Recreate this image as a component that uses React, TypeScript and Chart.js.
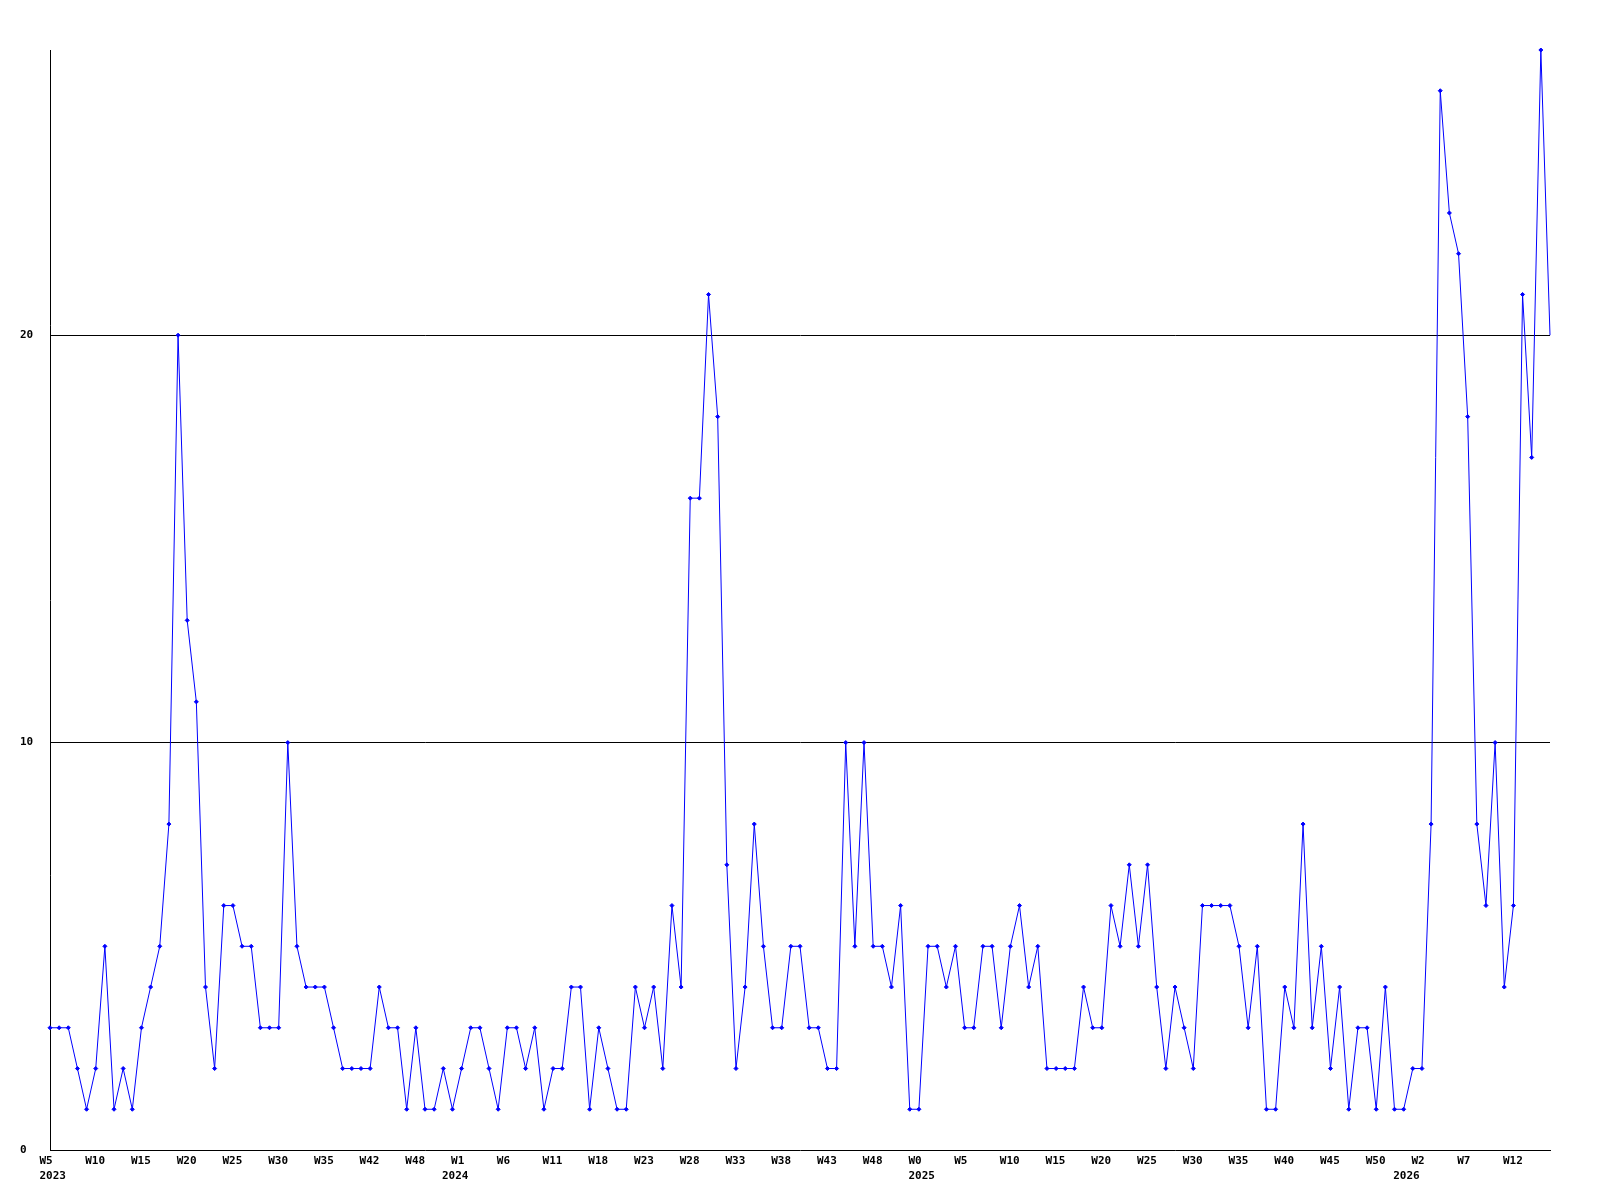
import React, { useEffect, useRef } from 'react';
import { Chart, registerables } from 'chart.js';

Chart.register(...registerables);

// One value per week (165 points)
const weeklyCounts: number[] = [
  3, 3, 3, 2, 1, 2, 5, 1, 2, 1,
  3, 4, 5, 8, 20, 13, 11, 4, 2, 6,
  6, 5, 5, 3, 3, 3, 10, 5, 4, 4,
  4, 3, 2, 2, 2, 2, 4, 3, 3, 1,
  3, 1, 1, 2, 1, 2, 3, 3, 2, 1,
  3, 3, 2, 3, 1, 2, 2, 4, 4, 1,
  3, 2, 1, 1, 4, 3, 4, 2, 6, 4,
  16, 16, 21, 18, 7, 2, 4, 8, 5, 3,
  3, 5, 5, 3, 3, 2, 2, 10, 5, 10,
  5, 5, 4, 6, 1, 1, 5, 5, 4, 5,
  3, 3, 5, 5, 3, 5, 6, 4, 5, 2,
  2, 2, 2, 4, 3, 3, 6, 5, 7, 5,
  7, 4, 2, 4, 3, 2, 6, 6, 6, 6,
  5, 3, 5, 1, 1, 4, 3, 8, 3, 5,
  2, 4, 1, 3, 3, 1, 4, 1, 1, 2,
  2, 8, 26, 23, 22, 18, 8, 6, 10, 4,
  6, 21, 17, 27, 20,
];

// Week tick labels, one for every 5th point
const weekTickLabels: string[] = [
  'W5', 'W10', 'W15', 'W20', 'W25', 'W30', 'W35', 'W42', 'W48', 'W1',
  'W6', 'W11', 'W18', 'W23', 'W28', 'W33', 'W38', 'W43', 'W48', 'W0',
  'W5', 'W10', 'W15', 'W20', 'W25', 'W30', 'W35', 'W40', 'W45', 'W50',
  'W2', 'W7', 'W12',
];
const weekTickStep = 5;

// Year labels and the point index where each year begins
const yearLabels: string[] = ['2023', '2024', '2025', '2026'];
const yearStartIndex: number[] = [0, 44, 95, 148];

// Y axis tick values
const yTickValues: number[] = [0, 10, 20];
const yMax = 27;

const FONT = {
  family: "'DejaVu Sans Mono', 'Liberation Mono', monospace",
  size: 11,
  weight: 'bold' as const,
  lineHeight: 1.35,
};

export default function App() {
  const ref = useRef<HTMLCanvasElement>(null);

  useEffect(() => {
    if (!ref.current) return;
    const lastIndex = weeklyCounts.length - 1;
    const chart = new Chart(ref.current, {
      type: 'line',
      data: {
        labels: weeklyCounts.map((_, i) => String(i)),
        datasets: [
          {
            data: weeklyCounts,
            borderColor: '#0000ff',
            backgroundColor: '#0000ff',
            borderWidth: 1,
            pointStyle: 'rectRot',
            pointRadius: (c: any) => (c.dataIndex === lastIndex ? 0 : 2),
            pointBackgroundColor: '#0000ff',
            pointBorderColor: '#0000ff',
            pointBorderWidth: 1,
            tension: 0,
            fill: false,
            clip: false,
          },
        ],
      },
      options: {
        responsive: false,
        animation: false,
        devicePixelRatio: 1,
        layout: { padding: { left: 20, top: 50, right: 50, bottom: 0 } },
        plugins: {
          legend: { display: false },
          tooltip: { enabled: false },
        },
        scales: {
          x: {
            type: 'category',
            offset: false,
            grid: { display: false, drawTicks: false },
            border: { display: true, color: '#000000', width: 1 },
            ticks: {
              autoSkip: false,
              maxRotation: 0,
              minRotation: 0,
              align: 'start',
              labelOffset: -10.5,
              padding: 4,
              color: '#000000',
              font: FONT,
              callback: (_v: any, index: number) => {
                const w =
                  index % weekTickStep === 0
                    ? weekTickLabels[index / weekTickStep] ?? ''
                    : '';
                const yi = yearStartIndex.indexOf(index);
                const y = yi >= 0 ? yearLabels[yi] : '';
                if (!w && !y) return null;
                if (y) return [w, y];
                return w;
              },
            },
            afterFit: (s: any) => {
              s.height = 50;
            },
          },
          y: {
            type: 'linear',
            min: 0,
            max: yMax,
            grid: {
              drawTicks: false,
              lineWidth: 1,
              color: (c: any) =>
                c.tick && c.tick.value === 0 ? 'rgba(0,0,0,0)' : '#000000',
            },
            border: { display: true, color: '#000000', width: 1 },
            ticks: {
              crossAlign: 'far',
              padding: 0,
              color: '#000000',
              font: FONT,
            },
            afterBuildTicks: (s: any) => {
              s.ticks = yTickValues.map((v) => ({ value: v }));
            },
            afterFit: (s: any) => {
              s.width = 30;
            },
          },
        },
      } as any,
    });
    return () => chart.destroy();
  }, []);

  return (
    <div
      style={{
        position: 'fixed',
        left: 0,
        top: 0,
        width: 1600,
        height: 1200,
        background: '#ffffff',
      }}
    >
      <canvas
        ref={ref}
        width={1600}
        height={1200}
        style={{ width: 1600, height: 1200, display: 'block' }}
      />
    </div>
  );
}
